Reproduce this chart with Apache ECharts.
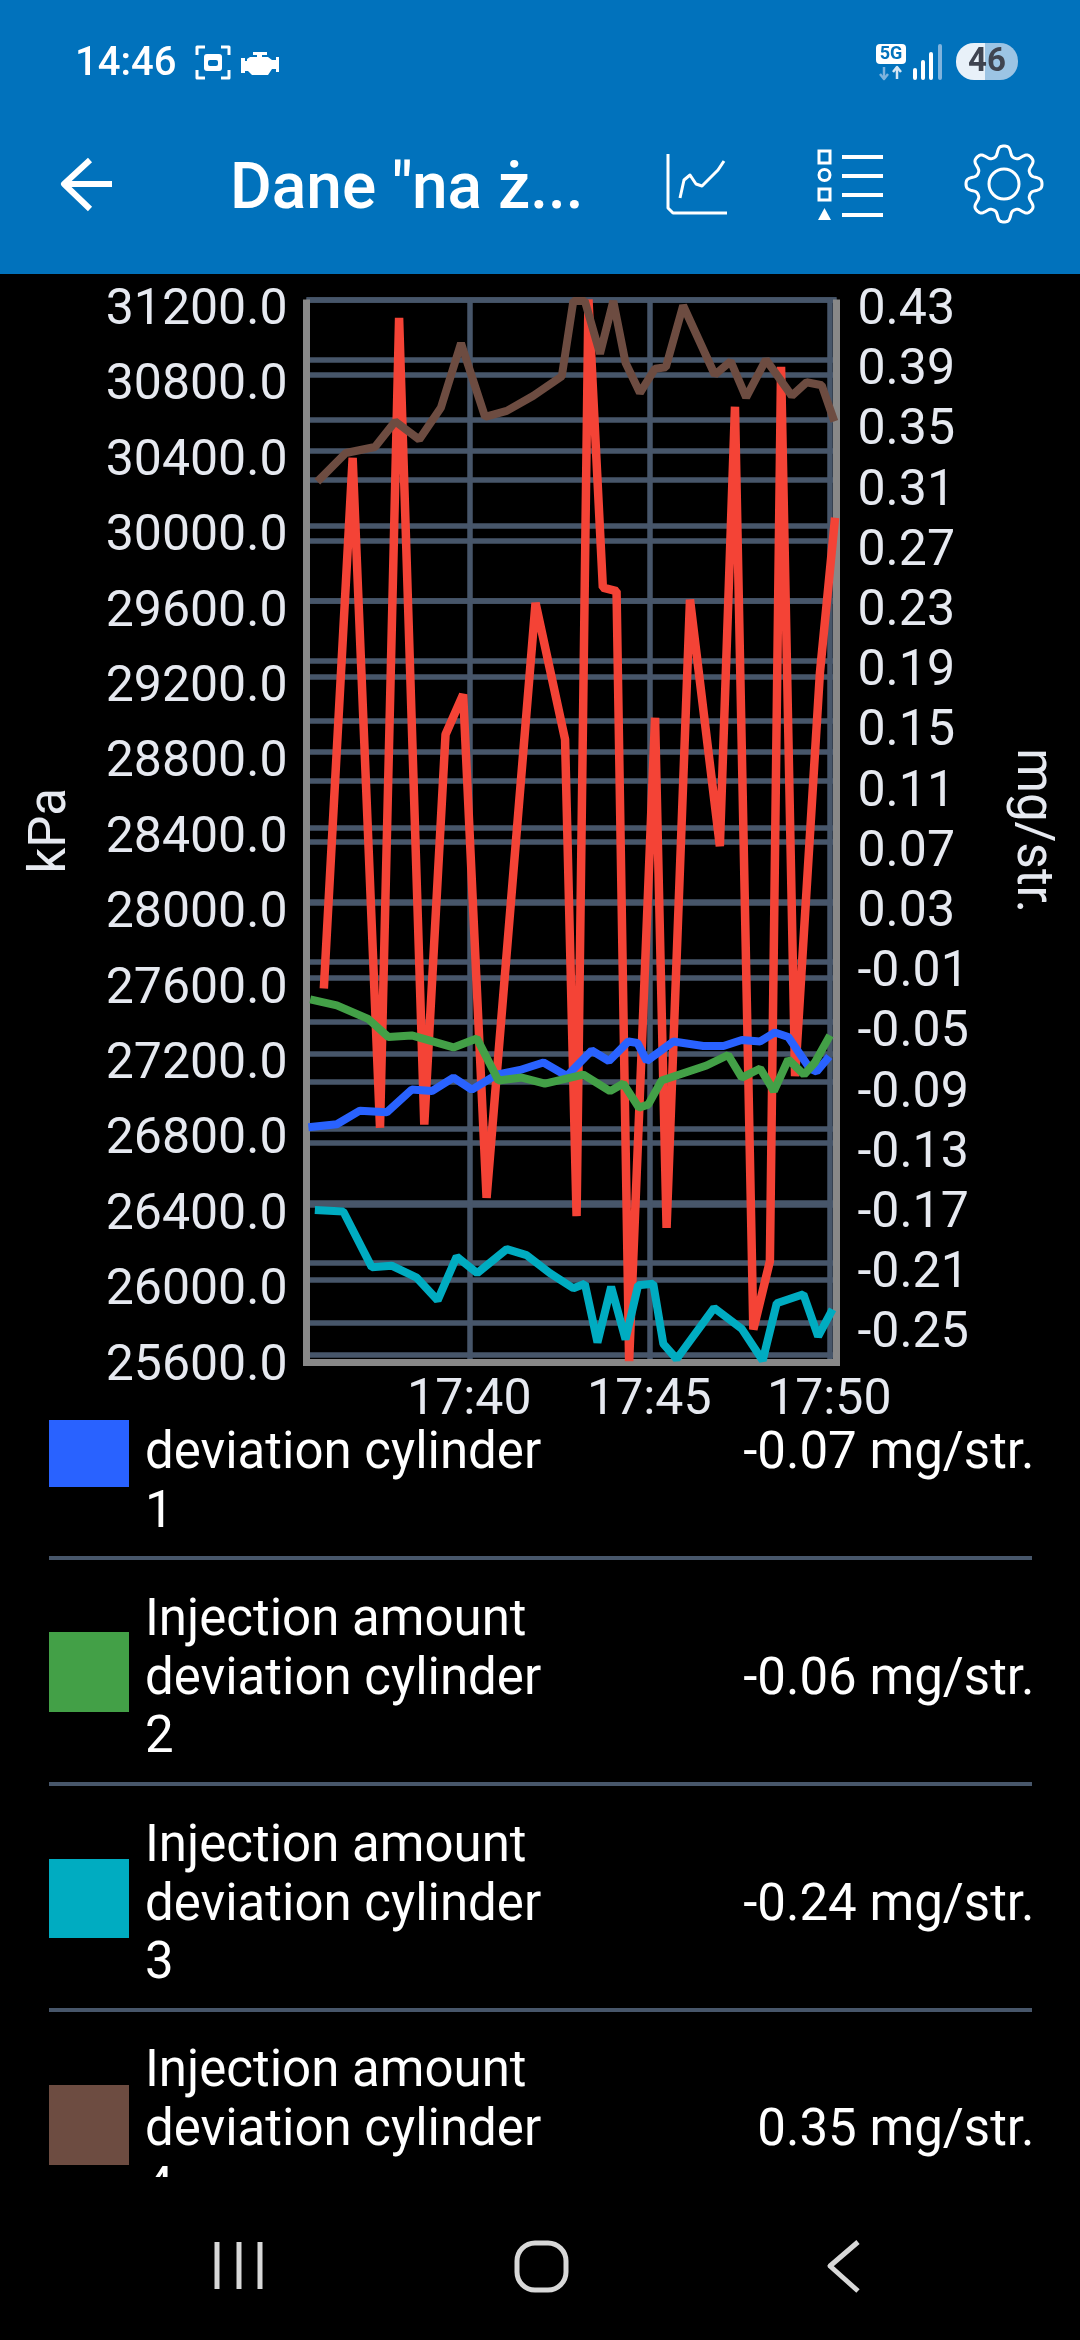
<!DOCTYPE html>
<html>
<head>
<meta charset="utf-8">
<title>Dane "na żywo"</title>
<style>
html,body{margin:0;padding:0;background:#000;width:1080px;height:2340px;overflow:hidden}
#chart{width:1080px;height:2340px}
</style>
<script src="https://cdn.jsdelivr.net/npm/echarts@6/dist/echarts.min.js"></script>
</head>
<body>
<div id="chart"></div>
<script>
// Minutes after 17:00 on the x axis
const xTickValues = [40, 45, 50];
const leftTicks = [31200,30800,30400,30000,29600,29200,28800,28400,28000,27600,27200,26800,26400,26000,25600];
const rightTicks = [0.43,0.39,0.35,0.31,0.27,0.23,0.19,0.15,0.11,0.07,0.03,-0.01,-0.05,-0.09,-0.13,-0.17,-0.21,-0.25];

const redTimes = [35.96,36.76,37.52,38.05,38.75,39.34,39.83,40.48,41.84,42.66,42.98,43.31,43.71,44.09,44.44,45.16,45.48,46.13,46.96,47.38,47.89,48.35,48.66,49.05,49.74,50.16];
const redValues = [27545,30360,26806,31103,26823,28892,29105,26434,29591,28866,26337,31200,29672,29653,25568,28981,26275,29608,28300,30631,25736,26098,30843,27080,29221,30042];

const blueTimes = [35.53,36.32,36.96,37.71,38.40,38.96,39.56,40.07,40.76,41.41,42.06,42.71,43.40,43.88,44.42,44.67,44.93,45.67,46.50,47.06,47.57,48.08,48.49,48.86,49.46,49.65,50.00];
const blueValues = [-0.120,-0.118,-0.109,-0.110,-0.095,-0.096,-0.087,-0.095,-0.085,-0.082,-0.077,-0.086,-0.069,-0.076,-0.063,-0.064,-0.076,-0.063,-0.066,-0.066,-0.062,-0.063,-0.057,-0.060,-0.081,-0.083,-0.073];

const greenTimes = [35.58,36.32,37.19,37.75,38.40,39.56,40.21,40.81,41.46,42.10,43.17,43.91,44.28,44.71,44.97,45.34,46.59,47.19,47.57,48.08,48.46,48.86,49.30,49.60,50.02];
const greenValues = [-0.035,-0.039,-0.048,-0.060,-0.059,-0.067,-0.061,-0.089,-0.087,-0.091,-0.085,-0.096,-0.091,-0.107,-0.105,-0.089,-0.079,-0.072,-0.087,-0.081,-0.096,-0.075,-0.085,-0.077,-0.059];

const cyanTimes = [35.71,36.50,37.29,37.84,38.54,39.12,39.65,40.22,41.04,41.59,42.24,42.89,43.21,43.56,43.94,44.34,44.69,45.11,45.39,45.76,46.80,47.57,48.15,48.54,49.28,49.69,50.09];
const cyanValues = [-0.175,-0.176,-0.213,-0.212,-0.220,-0.235,-0.206,-0.217,-0.201,-0.205,-0.217,-0.227,-0.224,-0.263,-0.226,-0.261,-0.225,-0.224,-0.264,-0.274,-0.240,-0.254,-0.275,-0.237,-0.231,-0.259,-0.241];

const brownTimes = [35.78,36.57,37.38,37.94,38.61,39.21,39.77,40.44,41.04,41.78,42.57,42.89,43.21,43.63,44.00,44.34,44.74,45.16,45.46,45.94,46.82,47.26,47.69,48.24,48.96,49.37,49.79,50.14];
const brownValues = [0.309,0.328,0.332,0.349,0.337,0.358,0.401,0.352,0.356,0.366,0.379,0.429,0.429,0.394,0.429,0.388,0.368,0.384,0.385,0.426,0.380,0.389,0.365,0.390,0.366,0.375,0.373,0.349];

const legendNames = [['deviation cylinder','1'],['Injection amount','deviation cylinder','2'],['Injection amount','deviation cylinder','3'],['Injection amount','deviation cylinder','4']];
const legendValues = ['-0.07 mg/str.','-0.06 mg/str.','-0.24 mg/str.','0.35 mg/str.'];
const legendColors = ['#2962FF','#43A047','#00ACC1','#6D4C41'];

const FONT = 'Roboto';
const GRID_COLOR = '#47566A';
const FRAME = '#888888';
const AXIS_TEXT = '#E6E9F0';
const HEADER = '#0172BC';

const zip = (xs, ys) => xs.map((x, i) => [x, ys[i]]);

function lineSeries(name, color, xs, ys, yAxisIndex, width) {
  return {
    name, type: 'line', yAxisIndex, data: zip(xs, ys), symbol: 'none', smooth: false, clip: true,
    lineStyle: {color, width, join: 'bevel', cap: 'butt'}, silent: true
  };
}

// Graphic helpers (page furniture: header, legend list and navigation bar)
const rect = (x, y, w, h, fill, r) => ({type:'rect', silent:true, shape:{x, y, width:w, height:h, r:r||0}, style:{fill}});
const stroke = (pts, color, w, cap) => ({type:'polyline', silent:true, shape:{points:pts}, style:{stroke:color, fill:null, lineWidth:w, lineCap:cap||'butt', lineJoin:'round'}});
const poly = (pts, fill) => ({type:'polygon', silent:true, shape:{points:pts}, style:{fill}});
const txt = (text, x, y, font, fill, align) => ({type:'text', silent:true, style:{text, x, y, font, fill, align:align||'left', verticalAlign:'middle', textAlign:align||'left', textVerticalAlign:'middle'}});

function gearPoints(cx, cy) {
  const pts = [];
  for (let i = 0; i < 240; i++) {
    const t = i / 240 * Math.PI * 2;
    const k = Math.tanh(1.6 * Math.cos(8 * (t - Math.PI / 2))) / Math.tanh(1.6);
    const r = 33 + 5 * k;
    pts.push([cx + r * Math.cos(t), cy + r * Math.sin(t)]);
  }
  return pts;
}

const furniture = [];
// header
furniture.push(rect(0, 0, 1080, 274, HEADER));
furniture.push(txt('14:46', 75, 65, '500 40px ' + FONT, '#FFFFFF'));
// screenshot status icon
[[[197,55],[197,47],[205,47]],[[221,47],[229,47],[229,55]],[[197,70],[197,78],[205,78]],[[221,78],[229,78],[229,70]]].forEach(p => furniture.push(stroke(p, '#FFFFFF', 3)));
furniture.push(rect(204, 54, 18, 17, '#FFFFFF', 3));
furniture.push(rect(208, 60, 10, 6, HEADER, 2));
// engine status icon
furniture.push(poly([[253,52],[267,52],[267,55],[262,55],[262,57],[268,57],[272,60],[276,60],[276,57],[279,57],[279,72],[276,72],[276,69],[272,69],[268,75],[252,75],[248,71],[245,71],[245,73],[241,73],[241,58],[245,58],[245,61],[247,61],[247,59],[250,57],[257,57],[257,55],[253,55]], '#FFFFFF'));
// network status icons
furniture.push(rect(876, 44, 30, 20, '#FFFFFF', 4));
furniture.push(txt('5G', 891, 54.5, 'bold 18px ' + FONT, HEADER, 'center'));
furniture.push(stroke([[884,67],[884,79]], '#7FB3DD', 2.5));
furniture.push(stroke([[880,74],[884,79],[888,74]], '#7FB3DD', 2.5));
furniture.push(stroke([[897,79],[897,67]], '#D5E6F4', 2.5));
furniture.push(stroke([[893,72],[897,67],[901,72]], '#D5E6F4', 2.5));
furniture.push(stroke([[915,78],[915,70]], '#FFFFFF', 4, 'round'));
furniture.push(stroke([[923,78],[923,62]], '#FFFFFF', 4, 'round'));
furniture.push(stroke([[931,78],[931,54]], '#FFFFFF', 4, 'round'));
furniture.push(stroke([[940,78],[940,46]], '#7FB3DD', 4, 'round'));
// battery pill
furniture.push(rect(985, 43, 33, 37, '#9CC4E4', [0,18,18,0]));
furniture.push(rect(956, 43, 29, 37, '#E8F1F9', [18,0,0,18]));
furniture.push(txt('46', 987, 62.5, 'bold 33px ' + FONT, '#3F4450', 'center'));
// app bar
furniture.push(stroke([[112,184],[63,184]], '#FFFFFF', 6));
furniture.push(stroke([[90,160],[64,184],[90,209]], '#FFFFFF', 6));
furniture.push(txt('Dane "na ż...', 230, 192, '500 64px ' + FONT, '#FFFFFF'));
furniture.push(stroke([[668,154],[668,208],[673,213],[727,213]], '#FFFFFF', 3));
furniture.push({type:'polyline', silent:true, shape:{points:[[680,198],[684,180],[690,175],[696,184],[702,186],[712,176],[718,170],[724,161]]}, style:{stroke:'#FFFFFF', fill:null, lineWidth:3, lineJoin:'round'}});
furniture.push({type:'rect', silent:true, shape:{x:819,y:151,width:11,height:12}, style:{stroke:'#FFFFFF', fill:null, lineWidth:3}});
furniture.push({type:'circle', silent:true, shape:{cx:824.5,cy:175,r:5.5}, style:{stroke:'#FFFFFF', fill:null, lineWidth:3}});
furniture.push({type:'rect', silent:true, shape:{x:819,y:189,width:11,height:11}, style:{stroke:'#FFFFFF', fill:null, lineWidth:3}});
furniture.push(poly([[824.5,208],[831,220],[818,220]], '#FFFFFF'));
[157,176,195,215].forEach(y => furniture.push(stroke([[842,y],[883,y]], '#FFFFFF', 4)));
furniture.push({type:'polygon', silent:true, shape:{points:gearPoints(1004,184)}, style:{stroke:'#FFFFFF', fill:null, lineWidth:3, lineJoin:'round'}});
furniture.push({type:'circle', silent:true, shape:{cx:1004,cy:184,r:15}, style:{stroke:'#FFFFFF', fill:null, lineWidth:3}});

// legend list
const LEGEND_FONT = '51px ' + FONT;
const rowFirstLine = [1396, 1622, 1848, 2073];
legendNames.forEach((lines, i) => {
  const y0 = rowFirstLine[i];
  const firstY = lines.length === 2 ? y0 + 59 : y0;
  lines.forEach((s, j) => furniture.push(txt(s, 145, firstY + j * 58.8, LEGEND_FONT, '#FFFFFF')));
  const valueY = y0 + 59;
  furniture.push(txt(legendValues[i], 1034.5, valueY, LEGEND_FONT, '#FFFFFF', 'right'));
});
furniture.push(rect(49, 1420, 80, 67, legendColors[0]));
furniture.push(rect(49, 1632, 80, 80, legendColors[1]));
furniture.push(rect(49, 1859, 80, 79, legendColors[2]));
furniture.push(rect(49, 2085, 80, 80, legendColors[3]));
[1558, 1784, 2010].forEach(y => furniture.push(rect(49, y - 2, 983, 4, GRID_COLOR)));
// navigation bar covers the scrolled list
furniture.push(rect(0, 2177, 1080, 163, '#000000'));
[217,239,260].forEach(x => furniture.push(stroke([[x,2242],[x,2289]], '#D8D8D8', 5)));
furniture.push({type:'rect', silent:true, shape:{x:517,y:2243,width:49,height:47,r:18}, style:{stroke:'#D8D8D8', fill:null, lineWidth:5}});
furniture.push(stroke([[858,2242],[830,2266],[858,2291]], '#D8D8D8', 5));

const chart = echarts.init(document.getElementById('chart'), null, {width:1080, height:2340, renderer:'canvas'});

const GRID_LEFT = 306.5, GRID_RIGHT = 836.5, GRID_TOP = 299.5, GRID_BOTTOM = 1362;
const splitLine = {show:true, lineStyle:{color:GRID_COLOR, width:5.5, type:'solid', cap:'butt'}};

chart.setOption({
  animation: false,
  backgroundColor: '#000000',
  textStyle: {fontFamily: FONT},
  grid: {left: GRID_LEFT, top: GRID_TOP, width: GRID_RIGHT - GRID_LEFT, height: GRID_BOTTOM - GRID_TOP, containLabel: false, show: false},
  xAxis: {
    type: 'value', min: 35.478, max: 50.2,
    axisLine: {show:true, onZero:false, lineStyle:{color:FRAME, width:7, cap:'square'}},
    axisTick: {show:false, customValues: xTickValues},
    axisLabel: {show:true, customValues: xTickValues, margin: 14, fontSize: 50, fontFamily: FONT, color: AXIS_TEXT, hideOverlap:false,
      formatter: v => '17:' + String(Math.round(v) - 0).padStart(2,'0')},
    splitLine
  },
  yAxis: [
    {
      type: 'value', position: 'left', min: 25563.4, max: 31200,
      name: 'kPa', nameLocation: 'middle', nameGap: 229, nameRotate: 90,
      nameTextStyle: {fontSize: 51, fontFamily: FONT, color: AXIS_TEXT},
      axisLine: {show:true, onZero:false, lineStyle:{color:FRAME, width:7, cap:'butt'}},
      axisTick: {show:false, customValues: leftTicks},
      axisLabel: {show:true, customValues: leftTicks, margin: 19, fontSize: 50, fontFamily: FONT, color: AXIS_TEXT, verticalAlign:'top', lineHeight:24, hideOverlap:false,
        formatter: v => v.toFixed(1)},
      splitLine
    },
    {
      type: 'value', position: 'right', min: -0.276, max: 0.43,
      name: 'mg/str.', nameLocation: 'middle', nameGap: 169, nameRotate: -90,
      nameTextStyle: {fontSize: 51, fontFamily: FONT, color: AXIS_TEXT},
      axisLine: {show:true, onZero:false, lineStyle:{color:FRAME, width:7, cap:'butt'}},
      axisTick: {show:false, customValues: rightTicks},
      axisLabel: {show:true, customValues: rightTicks, margin: 21, fontSize: 50, fontFamily: FONT, color: AXIS_TEXT, verticalAlign:'top', lineHeight:24, hideOverlap:false,
        formatter: v => v.toFixed(2)},
      splitLine
    }
  ],
  series: [
    lineSeries('Fuel rail pressure', '#F44336', redTimes, redValues, 0, 8.5),
    lineSeries('Injection amount deviation cylinder 1', legendColors[0], blueTimes, blueValues, 1, 8),
    lineSeries('Injection amount deviation cylinder 2', legendColors[1], greenTimes, greenValues, 1, 8),
    lineSeries('Injection amount deviation cylinder 3', legendColors[2], cyanTimes, cyanValues, 1, 8),
    lineSeries('Injection amount deviation cylinder 4', legendColors[3], brownTimes, brownValues, 1, 8)
  ],
  graphic: {elements: furniture}
});
</script>
</body>
</html>
